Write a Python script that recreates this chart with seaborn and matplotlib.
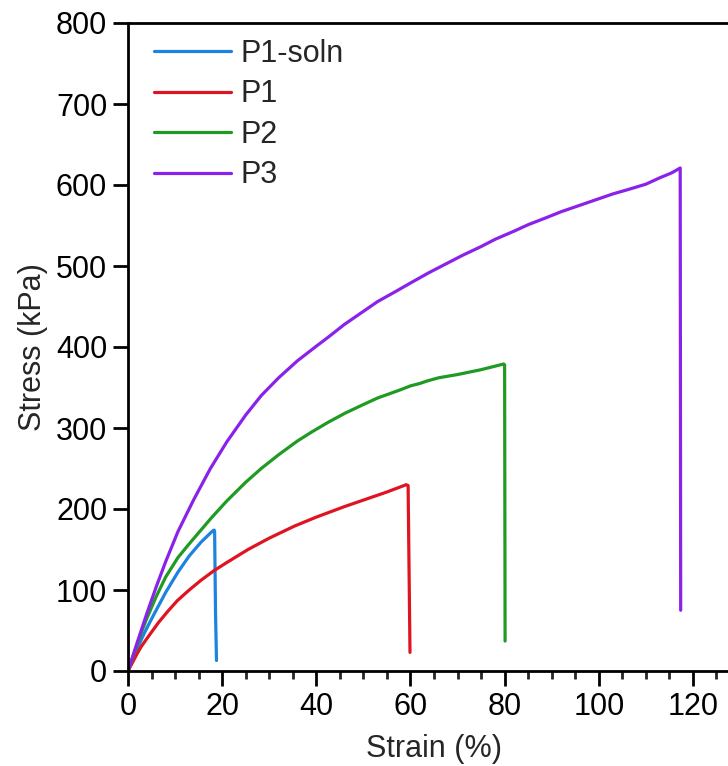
import matplotlib
matplotlib.use("Agg")
import matplotlib.pyplot as plt
from matplotlib.ticker import MultipleLocator
import seaborn as sns
import pandas as pd

# ---- data ----
p1soln_strain = [0, 1, 2, 3, 4, 5.7, 8, 10.6, 13, 15.5, 18.0, 18.3, 18.4, 18.5, 18.6, 18.8]
p1soln_stress = [0, 14, 28, 41, 53, 72, 97, 122, 142, 159, 173, 174, 172, 120, 69, 13]

p1_strain = [0, 1, 2, 2.8, 4, 5, 6.5, 8.5, 10.5, 13, 15.5, 18.3, 21, 25.5, 30, 35.4,
             40, 46, 50, 55, 59.1, 59.5, 59.9]
p1_stress = [0, 11, 22, 30, 40, 48, 60, 74, 87, 100, 112, 124, 134, 150, 164, 179,
             190, 203, 211, 221, 230, 229, 23]

p2_strain = [0, 1, 2, 3, 4, 6, 8, 10.6, 13, 15.5, 17.7, 21, 25, 28.3, 32, 36, 39,
             42.5, 46, 50, 53, 57.8, 60, 62, 63.5, 66, 70, 75, 79.8, 80.0, 80.1]
p2_stress = [0, 17, 34, 50, 65, 92, 116, 140, 157, 174, 189, 210, 233, 250, 267, 284, 295,
             307, 318, 329, 337, 347, 352, 355, 358, 362, 366, 372, 379, 378, 37]

p3_strain = [0, 1, 2, 4, 6, 8, 10.6, 14, 17.5, 21, 25, 28.3, 32, 36, 40, 42.5, 46, 50,
             53, 57, 60, 64, 68, 71, 75, 78, 82, 85, 89, 92, 96, 100, 103, 106, 110,
             113, 115.5, 117.3, 117.4]
p3_stress = [0, 18, 36, 71, 104, 135, 172, 212, 250, 283, 316, 340, 362, 383, 401, 412,
             428, 444, 456, 469, 479, 492, 504, 513, 524, 533, 543, 551, 560, 567, 575,
             583, 589, 594, 601, 609, 615, 621, 75]

series_names = ["P1-soln", "P1", "P2", "P3"]
series_colors = ["#1e82e0", "#e01420", "#1f9a22", "#8a22ea"]

x_ticks = [0, 20, 40, 60, 80, 100, 120]
y_ticks = [0, 100, 200, 300, 400, 500, 600, 700, 800]

frames = []
for name, xs, ys in zip(series_names,
                        [p1soln_strain, p1_strain, p2_strain, p3_strain],
                        [p1soln_stress, p1_stress, p2_stress, p3_stress]):
    frames.append(pd.DataFrame({"Strain": xs, "Stress": ys, "Sample": name}))
df = pd.concat(frames, ignore_index=True)

sns.set_theme(style="ticks")
plt.rcParams["font.family"] = ["Liberation Sans", "DejaVu Sans"]

fig = plt.figure(figsize=(7.28, 7.66), dpi=100)
ax = fig.add_axes([128 / 728, 95 / 766, 612 / 728, 648 / 766])

sns.lineplot(data=df, x="Strain", y="Stress", hue="Sample", hue_order=series_names,
             palette=series_colors, sort=False, estimator=None, units="Sample",
             linewidth=2.3, ax=ax)

ax.set_xlim(0, 130)
ax.set_ylim(0, 800)
ax.set_xticks(x_ticks)
ax.set_yticks(y_ticks)
ax.xaxis.set_minor_locator(MultipleLocator(5))
ax.tick_params(axis="both", which="major", direction="out", length=11, width=2,
               labelsize=22, colors="black", pad=4)
ax.tick_params(axis="x", which="minor", direction="out", length=5.5, width=2)
for s in ["left", "bottom", "top"]:
    ax.spines[s].set_linewidth(2)
    ax.spines[s].set_color("black")
ax.spines["right"].set_visible(False)
ax.set_xlabel("Strain (%)", fontsize=22, labelpad=9)
ax.set_ylabel("Stress (kPa)", fontsize=22, labelpad=6)

leg = ax.legend(loc="upper left", bbox_to_anchor=(0.033, 0.9846), frameon=False,
                fontsize=22, handlelength=2.5, handletextpad=0.33,
                labelspacing=0.34, borderaxespad=0, borderpad=0.2, title=None)
for line in leg.get_lines():
    line.set_linewidth(2.3)

fig.savefig("out.png", dpi=100)
